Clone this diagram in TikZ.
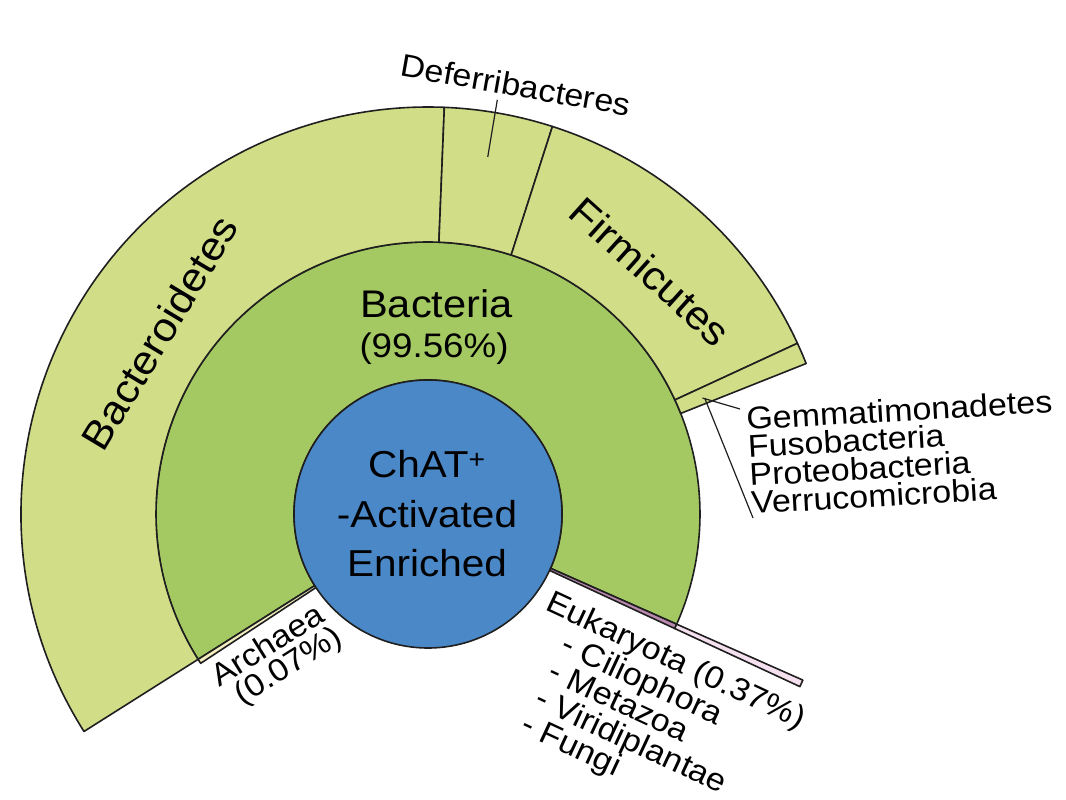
\documentclass[tikz,border=0pt]{standalone}
\usepackage{fontspec}
\setmainfont{Liberation Sans}[FakeStretch=1.08]
\definecolor{outerg}{HTML}{D2DD88}
\definecolor{bactg}{HTML}{A4C962}
\definecolor{blueC}{HTML}{4A88C8}
\definecolor{archY}{HTML}{F4EFC0}
\definecolor{eukM}{HTML}{B98AAE}
\definecolor{eukP}{HTML}{F4E0EE}
\newcommand{\myfs}[1]{\fontsize{#1}{#1}\selectfont}
\newcommand{\wedgeseg}[5]{\path[seg,fill=#1] (#2:#4) arc[start angle=#2,end angle=#3,radius=#4] -- (#3:#5) arc[start angle=#3,end angle=#2,radius=#5] -- cycle;}
\begin{document}
\begin{tikzpicture}[x=1pt,y=1pt,
  seg/.style={draw=black!88,line width=1.6pt,line join=round},
  lbl/.style={inner sep=0pt,outer sep=0pt,text=black},
  lead/.style={draw=black!88,line width=1.2pt}]
\useasboundingbox (0,0) rectangle (1066,800);
\coordinate (C) at (428,286);
\begin{scope}[shift={(C)}]
  % Bacteria ring
  \wedgeseg{bactg}{-23.9}{212.3}{134}{272}
  % outer ring (phyla)
  \wedgeseg{outerg}{87.7}{212.3}{272}{407}
  \wedgeseg{outerg}{72.2}{87.7}{272}{407}
  \wedgeseg{outerg}{24.8}{72.2}{272}{407}
  \wedgeseg{outerg}{21.7}{24.8}{272}{407}
  % Archaea
  \wedgeseg{archY}{212.3}{213.3}{134}{272}
  % Eukaryota
  \wedgeseg{eukM}{-24.9}{-23.9}{134}{272}
  \wedgeseg{eukP}{-24.9}{-23.9}{272}{410}
  % leader anchor points
  \coordinate (defA) at (80.5:362);
  \coordinate (defB) at (80.5:420);
  \coordinate (stripA) at (22.9:298);
  \coordinate (stripB) at (22.6:300);
\end{scope}
% root circle
\node[circle,seg,fill=blueC,minimum size=268pt,inner sep=0pt] (root) at (C) {};
\node[lbl,anchor=base,font=\myfs{37.5}] (t1) at (427,322) {ChAT\textsuperscript{+}};
\node[lbl,anchor=base,font=\myfs{37.5}] (t2) at (427,272) {-Activated};
\node[lbl,anchor=base,font=\myfs{37.5}] (t3) at (427,223) {Enriched};
% Bacteria label
\node[lbl,anchor=base,font=\myfs{38.5}] (bact) at (436.5,482) {Bacteria};
\node[lbl,anchor=base,font=\myfs{34}] (bactp) at (434,442) {(99.56\%)};
% phyla labels
\node[lbl,anchor=base,rotate=59,font=\myfs{40}] (bacteroid) at (172,460) {Bacteroidetes};
\node[lbl,anchor=base,rotate=-42,font=\myfs{40}] (firm) at (641,518) {Firmicutes};
\node[lbl,anchor=base,rotate=-10,font=\myfs{31.5}] (defer) at (514,704) {Deferribacteres};
\node[lbl,anchor=base west,rotate=3.3,font=\myfs{31.5}] (gem) at (747,370) {Gemmatimonadetes};
\node[lbl,anchor=base west,rotate=3.3,font=\myfs{31.5}] (fuso) at (748.6,342) {Fusobacteria};
\node[lbl,anchor=base west,rotate=3.3,font=\myfs{31.5}] (prot) at (750.2,314) {Proteobacteria};
\node[lbl,anchor=base west,rotate=3.3,font=\myfs{31.5}] (verr) at (751.8,286) {Verrucomicrobia};
% Archaea label
\node[lbl,anchor=base,rotate=32,font=\myfs{31.5}] (arch) at (273,146) {Archaea};
\node[lbl,anchor=base,rotate=32,font=\myfs{31.5}] (archp) at (293.3,126) {(0.07\%)};
% Eukaryota label
\node[lbl,anchor=base west,rotate=-25,font=\myfs{31.5}] (euk) at (544,190) {Eukaryota (0.37\%)};
\node[lbl,anchor=base west,rotate=-25,font=\myfs{31.5}] (cil) at (559,148) {- Ciliophora};
\node[lbl,anchor=base west,rotate=-25,font=\myfs{31.5}] (meta) at (546,121) {- Metazoa};
\node[lbl,anchor=base west,rotate=-25,font=\myfs{31.5}] (viri) at (533,94) {- Viridiplantae};
\node[lbl,anchor=base west,rotate=-25,font=\myfs{31.5}] (fungi) at (519,68) {- Fungi};
% leaders
\coordinate (gemEnd) at (740,391);
\coordinate (verrEnd) at (753,282);
\draw[lead] (defA) -- (defB);
\draw[lead] (stripA) -- (gemEnd);
\draw[lead] (stripB) -- (verrEnd);
\end{tikzpicture}
\end{document}
